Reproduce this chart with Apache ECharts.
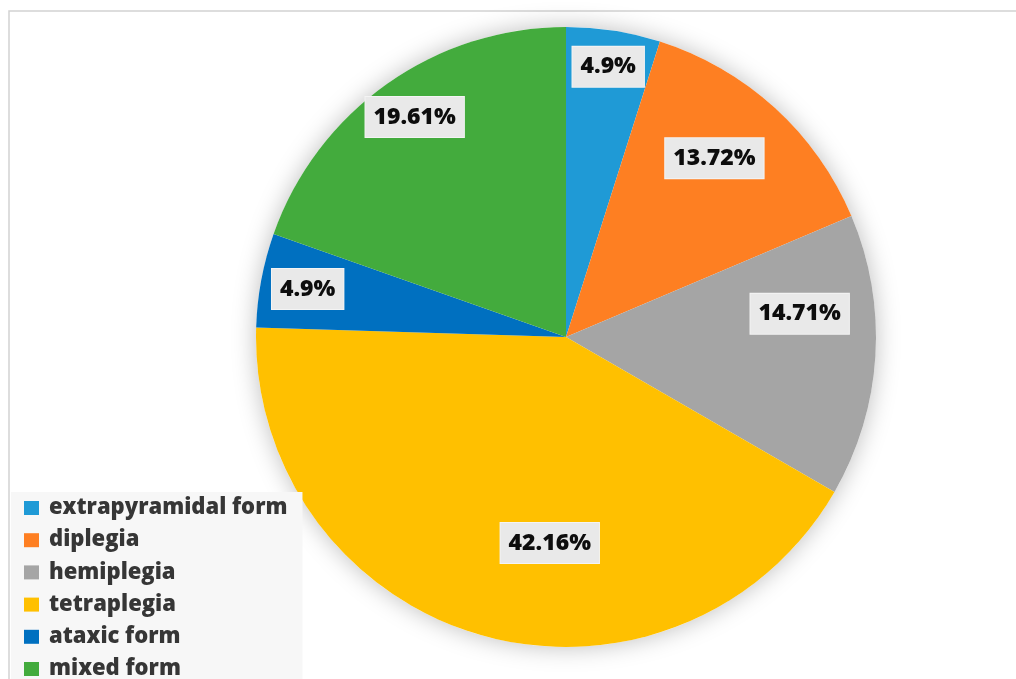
<!DOCTYPE html>
<html>
<head>
<meta charset="utf-8">
<script src="https://cdn.jsdelivr.net/npm/echarts@6/dist/echarts.min.js"></script>
<style>
html,body{margin:0;padding:0;background:#fff;}
#chart{width:1016px;height:679px;}
</style>
</head>
<body>
<div id="chart"></div>
<script>
// ---- data ----
const categories = ['extrapyramidal form', 'diplegia', 'hemiplegia', 'tetraplegia', 'ataxic form', 'mixed form'];
const percentValues = [4.9, 13.72, 14.71, 42.16, 4.9, 19.61];

// ---- styles ----
const sliceColors = ['#1f9ad6', '#fe7f22', '#a5a5a5', '#ffc000', '#0070c0', '#43ab3d'];
const labelShift = [[18, -114], [42, -62], [76, -33], [27, 54], [-103, -19], [-60, -91]];

const chart = echarts.init(document.getElementById('chart'));

const pieData = categories.map((name, i) => ({
  name: name,
  value: percentValues[i],
  itemStyle: { color: sliceColors[i] },
  label: { offset: labelShift[i] }
}));

const option = {
  backgroundColor: '#ffffff',
  animation: false,
  graphic: [{
    type: 'rect',
    shape: { x: 9, y: 11, width: 1200, height: 900 },
    style: { fill: 'none', stroke: '#d2d2d2', lineWidth: 1.5 },
    z: 0
  }],
  legend: {
    orient: 'vertical',
    left: 11,
    top: 492,
    height: 260,
    backgroundColor: '#f7f7f7',
    padding: [5, 15, 20, 13],
    icon: 'rect',
    itemWidth: 15,
    itemHeight: 14,
    itemGap: 10.2,
    data: categories,
    textStyle: {
      fontFamily: 'Open Sans',
      fontWeight: 800,
      fontSize: 22,
      lineHeight: 22,
      color: '#363636',
      padding: [0, 0, 0, 5]
    }
  },
  series: [
    {
      type: 'pie',
      silent: true,
      center: [566, 337],
      radius: [0, 310],
      z: 1,
      label: { show: false },
      labelLine: { show: false },
      itemStyle: {
        color: '#ffffff',
        shadowBlur: 24,
        shadowColor: 'rgba(0,0,0,0.26)',
        shadowOffsetX: 0,
        shadowOffsetY: 0
      },
      data: [{ value: 1, name: '__shadow' }],
      legendHoverLink: false
    },
    {
      type: 'pie',
      center: [566, 337],
      radius: [0, 310],
      startAngle: 90,
      clockwise: true,
      z: 2,
      itemStyle: { borderWidth: 0 },
      label: {
        show: true,
        position: 'inside',
        formatter: p => p.value + '%',
        fontFamily: 'Open Sans',
        fontWeight: 800,
        fontSize: 23,
        lineHeight: 24,
        color: '#0d0d0d',
        backgroundColor: '#e9e9e9',
        borderColor: '#f4f4f4',
        borderWidth: 1,
        padding: [8, 8, 8, 8]
      },
      labelLine: { show: false },
      emphasis: { scale: false },
      data: pieData
    }
  ]
};

chart.setOption(option);
</script>
</body>
</html>
